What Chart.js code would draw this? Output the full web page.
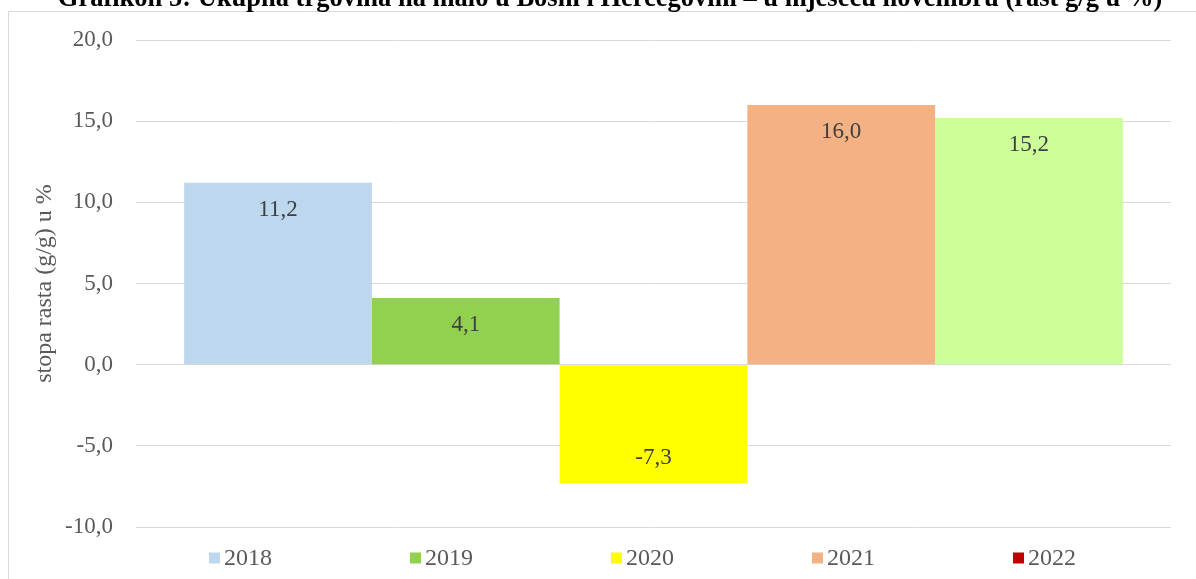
<!DOCTYPE html>
<html>
<head>
<meta charset="utf-8">
<script src="https://cdn.jsdelivr.net/npm/chart.js@4/dist/chart.umd.min.js"></script>
<style>
    body { margin: 0; background: #fff; }
    #wrap { width: 1196px; height: 579px; position: relative; }
</style>
</head>
<body>
<div id="wrap"><canvas id="retail-chart"></canvas></div>
<script>
const years = ["2018", "2019", "2020", "2021", "2022"];
const growth = [11.2, 4.1, -7.3, 16.0, 15.2];
const yTicks = [-10, -5, 0, 5, 10, 15, 20];

const barColors = ["#BDD7EE", "#92D050", "#FFFF00", "#F4B183", "#CCFF99"];
const legendColors = ["#BDD7EE", "#92D050", "#FFFF00", "#F4B183", "#C00000"];

const chartTitle =
    "Grafikon 5: Ukupna trgovina na malo u Bosni i Hercegovini – u mjesecu novembru (rast g/g u %)";
const serif = "'Liberation Serif', 'Times New Roman', serif";

const fmt = (v) => v.toFixed(1).replace(".", ",");

const ctx = document.getElementById("retail-chart").getContext("2d");

new Chart(ctx, {
    type: "bar",
    data: {
        labels: [""],
        datasets: years.map((year, i) => ({
            label: year,
            data: [growth[i]],
            backgroundColor: barColors[i],
            borderWidth: 0,
            barPercentage: 1,
            categoryPercentage: 0.907,
        })),
    },
    options: {
        responsive: true,
        maintainAspectRatio: false,
        animation: false,
        layout: {
            padding: { top: 40, bottom: 52, left: 0, right: 25 },
        },
        plugins: {
            legend: { display: false },
            tooltip: { enabled: false },
        },
        scales: {
            x: { display: false },
            y: {
                min: -10,
                max: 20,
                afterBuildTicks: (scale) => {
                    scale.ticks = yTicks.map((v) => ({ value: v }));
                },
                afterFit: (scale) => {
                    scale.width = 136;
                },
                border: { display: false },
                grid: {
                    color: "#d9d9d9",
                    lineWidth: 1,
                    drawTicks: false,
                },
                ticks: {
                    padding: 23,
                    color: "#595959",
                    font: { family: serif, size: 23 },
                    callback: (value) => fmt(value),
                },
                title: {
                    display: true,
                    text: "stopa rasta (g/g) u %",
                    color: "#595959",
                    font: { family: serif, size: 24 },
                    padding: { top: 30, bottom: 0 },
                },
            },
        },
    },
    plugins: [
        {
            id: "frameAndTitle",
            beforeDraw: (chart) => {
                const c = chart.ctx;
                c.save();
                c.strokeStyle = "#d9d9d9";
                c.lineWidth = 1;
                c.beginPath();
                c.moveTo(8.5, 579);
                c.lineTo(8.5, 11.5);
                c.lineTo(1196, 11.5);
                c.stroke();
                c.restore();
            },
            afterDraw: (chart) => {
                const c = chart.ctx;
                c.save();
                c.fillStyle = "#000";
                c.font = "bold 26.5px " + serif;
                c.textAlign = "center";
                c.textBaseline = "alphabetic";
                c.fillText(chartTitle, 610, 6);
                c.restore();
            },
        },
        {
            id: "barValues",
            afterDatasetsDraw: (chart) => {
                const c = chart.ctx;
                c.save();
                c.fillStyle = "#404040";
                c.font = "23px " + serif;
                c.textAlign = "center";
                c.textBaseline = "middle";
                chart.data.datasets.forEach((dataset, i) => {
                    const bar = chart.getDatasetMeta(i).data[0];
                    const value = dataset.data[0];
                    const y = value < 0 ? bar.y - 25 : bar.y + 27;
                    c.fillText(fmt(value), bar.x, y);
                });
                c.restore();
            },
        },
        {
            id: "spreadLegend",
            afterDraw: (chart) => {
                const c = chart.ctx;
                const step = 201;
                const startX = 209;
                const midY = 558;
                c.save();
                c.font = "24px " + serif;
                c.textBaseline = "middle";
                c.textAlign = "left";
                chart.data.datasets.forEach((dataset, i) => {
                    const x = startX + i * step;
                    c.fillStyle = legendColors[i];
                    c.fillRect(x, midY - 5.5, 11, 11);
                    c.fillStyle = "#595959";
                    c.fillText(dataset.label, x + 15, midY + 1);
                });
                c.restore();
            },
        },
    ],
});
</script>
</body>
</html>
